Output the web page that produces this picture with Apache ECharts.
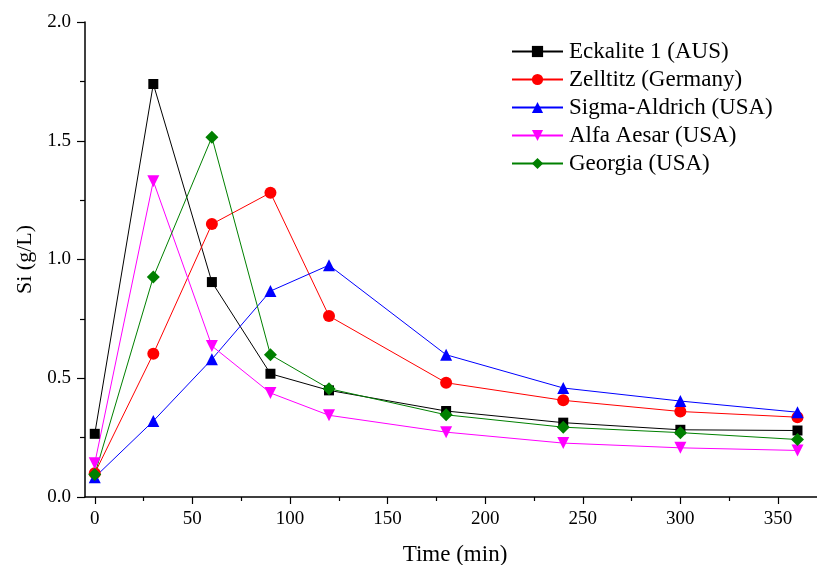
<!DOCTYPE html>
<html>
<head>
<meta charset="UTF-8">
<title>Si release</title>
<script src="https://cdn.jsdelivr.net/npm/echarts@6/dist/echarts.min.js"></script>
<style>
  html, body { margin: 0; padding: 0; background: #fff; }
  #chart { width: 817px; height: 565px; }
</style>
</head>
<body>
<div id="chart"></div>
<script>
var times = [0, 30, 60, 90, 120, 180, 240, 300, 360];
var xTicks = [0, 50, 100, 150, 200, 250, 300, 350];
var xMinorTicks = [25, 75, 125, 175, 225, 275, 325];

var eckalite = [0.266, 1.739, 0.905, 0.519, 0.449, 0.362, 0.313, 0.283, 0.280];
var zelltitz = [0.100, 0.603, 1.149, 1.281, 0.762, 0.481, 0.407, 0.360, 0.336];
var sigma    = [0.083, 0.320, 0.580, 0.867, 0.976, 0.599, 0.459, 0.404, 0.357];
var alfa     = [0.142, 1.330, 0.636, 0.438, 0.344, 0.273, 0.227, 0.207, 0.196];
var georgia  = [0.095, 0.926, 1.515, 0.599, 0.456, 0.346, 0.294, 0.271, 0.242];

var serif = '"Liberation Serif", "Times New Roman", serif';

function pairs(vals) {
    var out = [];
    for (var i = 0; i < times.length; i++) {
        out.push([times[i], vals[i]]);
    }
    return out;
}

function line(name, vals, color, symbol, size) {
    return {
        name: name,
        type: 'line',
        data: pairs(vals),
        symbol: symbol,
        symbolSize: size,
        showAllSymbol: true,
        lineStyle: {color: color, width: 1},
        itemStyle: {color: color},
        emphasis: {disabled: true},
        animation: false
    };
}

var chart = echarts.init(document.getElementById('chart'));
chart.setOption({
    backgroundColor: '#fff',
    textStyle: {fontFamily: serif},
    grid: {left: 85, right: 0, top: 22, bottom: 68, outerBoundsMode: 'none'},
    legend: {
        left: 511,
        top: 40,
        padding: 0,
        orient: 'vertical',
        itemWidth: 51,
        itemHeight: 14,
        itemGap: 5,
        textStyle: {fontFamily: serif, fontSize: 23, color: '#000', lineHeight: 23, padding: [0, 0, 0, 1]}
    },
    xAxis: [
        {
            type: 'value',
            min: -5,
            max: 370,
            name: 'Time (min)',
            nameLocation: 'middle',
            nameGap: 46,
            nameTextStyle: {fontFamily: serif, fontSize: 23, color: '#000', padding: [0, 0, 0, 8]},
            axisLine: {show: true, onZero: false, lineStyle: {color: '#000', width: 1.5}},
            axisTick: {show: true, length: 7, customValues: xTicks, lineStyle: {color: '#000', width: 1.2}},
            axisLabel: {customValues: xTicks, fontFamily: serif, fontSize: 19, color: '#000', margin: 13},
            splitLine: {show: false}
        },
        {
            type: 'value',
            min: -5,
            max: 370,
            position: 'bottom',
            axisLine: {show: false, onZero: false},
            axisTick: {show: true, length: 4, customValues: xMinorTicks, lineStyle: {color: '#000', width: 1.2}},
            axisLabel: {show: false},
            splitLine: {show: false}
        }
    ],
    yAxis: {
        type: 'value',
        min: 0,
        max: 2,
        interval: 0.5,
        name: 'Si (g/L)',
        nameLocation: 'middle',
        nameGap: 44,
        nameTextStyle: {fontFamily: serif, fontSize: 22, color: '#000'},
        axisLine: {show: true, onZero: false, lineStyle: {color: '#000', width: 1.5}},
        axisTick: {show: true, length: 8, lineStyle: {color: '#000', width: 1.2}},
        minorTick: {show: true, splitNumber: 2, length: 5, lineStyle: {color: '#000', width: 1.2}},
        axisLabel: {
            fontFamily: serif, fontSize: 19, color: '#000', margin: 14,
            formatter: function (v) { return v.toFixed(1); }
        },
        splitLine: {show: false}
    },
    series: [
        line('Eckalite 1 (AUS)', eckalite, '#000000', 'rect', 10),
        line('Zelltitz (Germany)', zelltitz, '#ff0000', 'circle', 12),
        line('Sigma-Aldrich (USA)', sigma, '#0000ff', 'triangle', 12),
        line('Alfa Aesar (USA)', alfa, '#ff00ff', 'path://M0,0 L10,0 L5,9 Z', 12),
        line('Georgia (USA)', georgia, '#008000', 'diamond', 13)
    ]
});
</script>
</body>
</html>
